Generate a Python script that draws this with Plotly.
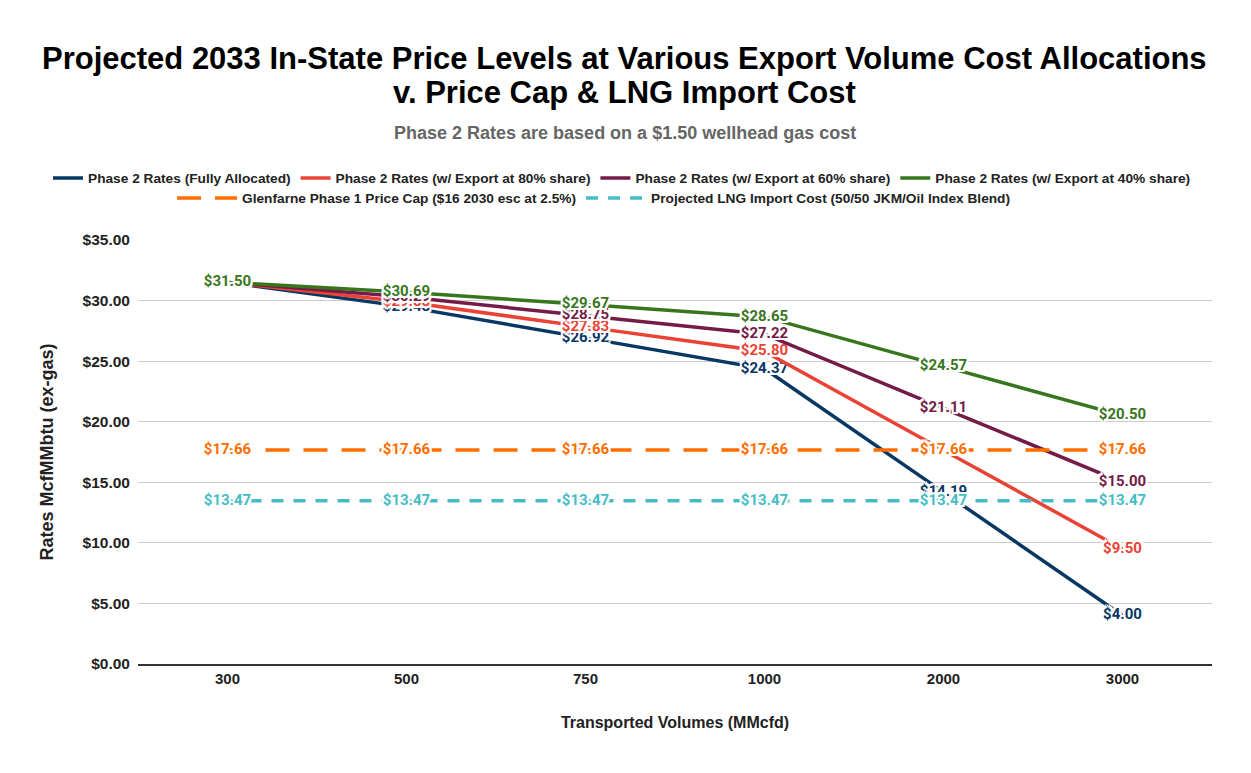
import plotly.graph_objects as go

volumes = ["300", "500", "750", "1000", "2000", "3000"]

fully_allocated = [31.50, 29.48, 26.92, 24.37, 14.19, 4.00]
export_80 = [31.50, 29.88, 27.83, 25.80, 17.65, 9.50]
export_60 = [31.50, 30.29, 28.75, 27.22, 21.11, 15.00]
export_40 = [31.50, 30.69, 29.67, 28.65, 24.57, 20.50]
price_cap = [17.66, 17.66, 17.66, 17.66, 17.66, 17.66]
lng_import = [13.47, 13.47, 13.47, 13.47, 13.47, 13.47]

series = [
    ("Phase 2 Rates (Fully Allocated)", fully_allocated, "#073763", "solid", "legend"),
    ("Phase 2 Rates (w/ Export at 80% share)", export_80, "#ea4335", "solid", "legend"),
    ("Phase 2 Rates (w/ Export at 60% share)", export_60, "#741b47", "solid", "legend"),
    ("Phase 2 Rates (w/ Export at 40% share)", export_40, "#38761d", "solid", "legend"),
    ("Glenfarne Phase 1 Price Cap ($16 2030 esc at 2.5%)", price_cap, "#ff6d01", "24px,14px", "legend2"),
    ("Projected LNG Import Cost (50/50 JKM/Oil Index Blend)", lng_import, "#46bdc6", "12px,10px", "legend2"),
]

# white halo round the data labels, like the sheet export
halo = ("2px 0 0 #fff, -2px 0 0 #fff, 0 2px 0 #fff, 0 -2px 0 #fff, "
        "2px 2px 0 #fff, -2px -2px 0 #fff, 2px -2px 0 #fff, -2px 2px 0 #fff")

fig = go.Figure()
for name, vals, color, dash, leg in series:
    fig.add_trace(go.Scatter(
        x=volumes, y=vals, name=name, mode="lines+text",
        line=dict(color=color, width=3.5, dash=dash),
        text=[f"${v:.2f}" for v in vals],
        textposition="middle center",
        textfont=dict(family="Roboto", size=15, color=color, weight="bold", shadow=halo),
        legend=leg, cliponaxis=False,
    ))

arial = "Liberation Sans, Arial"
legend_font = dict(family=arial, size=13.7, color="#222", weight="bold")
clear = "rgba(0,0,0,0)"

title_1 = "Projected 2033 In-State Price Levels at Various Export Volume Cost Allocations"
title_2 = "v. Price Cap & LNG Import Cost"
subtitle = "Phase 2 Rates are based on a $1.50 wellhead gas cost"

fig.update_layout(
    width=1251, height=773,
    margin=dict(l=130, r=47, t=232, b=117, autoexpand=False),
    paper_bgcolor="white", plot_bgcolor="white",
    showlegend=True,
    legend=dict(orientation="h", xref="paper", x=-0.0838, xanchor="left",
                yref="paper", y=1.146, yanchor="middle", bgcolor=clear,
                font=legend_font, itemwidth=30, tracegroupgap=0),
    legend2=dict(orientation="h", xref="paper", x=0.0317, xanchor="left",
                 yref="paper", y=1.099, yanchor="middle", bgcolor=clear,
                 font=legend_font, itemwidth=60, tracegroupgap=0),
    annotations=[
        dict(text=f"<b>{title_1}</b>", xref="paper", yref="paper", x=0.4534, xanchor="center",
             y=1.4292, yanchor="middle", showarrow=False,
             font=dict(family=arial, size=31, color="#000")),
        dict(text=f"<b>{title_2}</b>", xref="paper", yref="paper", x=0.4534, xanchor="center",
             y=1.3467, yanchor="middle", showarrow=False,
             font=dict(family=arial, size=31, color="#000")),
        dict(text=f"<b>{subtitle}</b>", xref="paper", yref="paper", x=0.4534, xanchor="center",
             y=1.2524, yanchor="middle", showarrow=False,
             font=dict(family=arial, size=18, color="#666")),
    ],
)

fig.update_xaxes(
    type="category", range=[-0.5, 5.5], showgrid=False, zeroline=False,
    showline=True, linecolor="#333", linewidth=1.5,
    tickfont=dict(family=arial, size=15, color="#222", weight="bold"),
    title=dict(text="Transported Volumes (MMcfd)", standoff=31,
               font=dict(family=arial, size=16, color="#222", weight="bold")),
)
fig.update_yaxes(
    range=[0, 35], dtick=5, tickprefix="$", tickformat=".2f",
    showgrid=True, gridcolor="#cccccc", gridwidth=1, zeroline=False,
    tickfont=dict(family=arial, size=15.5, color="#222", weight="bold"),
    ticks="", ticklabelstandoff=7,
    title=dict(text="Rates McfMMbtu (ex-gas)", standoff=24,
               font=dict(family=arial, size=18, color="#222", weight="bold")),
)

fig.write_html("out.html")
